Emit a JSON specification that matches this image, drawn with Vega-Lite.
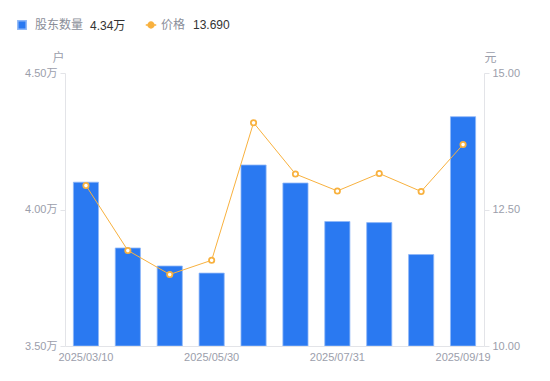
{
  "$schema": "https://vega.github.io/schema/vega-lite/v6.json",
  "width": 419,
  "height": 273,
  "autosize": {"type": "none"},
  "padding": {"left": 65, "top": 73, "right": 66, "bottom": 35},
  "config": {
    "view": {"stroke": null},
    "font": "Arial, 'Noto Sans CJK SC', sans-serif"
  },
  "data": {
    "values": [
      {"date": "2025/03/10", "holders": 41000, "price": 12.94},
      {"date": "2025/03/31", "holders": 38590, "price": 11.75},
      {"date": "2025/04/30", "holders": 37930, "price": 11.31},
      {"date": "2025/05/30", "holders": 37670, "price": 11.57},
      {"date": "2025/06/20", "holders": 41630, "price": 14.09},
      {"date": "2025/06/30", "holders": 40970, "price": 13.15},
      {"date": "2025/07/31", "holders": 39560, "price": 12.84},
      {"date": "2025/08/20", "holders": 39520, "price": 13.16},
      {"date": "2025/08/31", "holders": 38350, "price": 12.83},
      {"date": "2025/09/19", "holders": 43400, "price": 13.69}
    ]
  },
  "layer": [
    {
      "mark": {"type": "bar", "stroke": "#8fb8f7", "strokeWidth": 0.8, "clip": true},
      "encoding": {
        "x": {
          "field": "date", "type": "ordinal", "sort": null,
          "scale": {"paddingInner": 0.4, "paddingOuter": 0.2},
          "axis": {
            "title": null, "labelAngle": 0, "ticks": false,
            "values": ["2025/03/10", "2025/05/30", "2025/07/31", "2025/09/19"],
            "domainColor": "#e3e4e8", "labelColor": "#9b9eab", "labelFontSize": 11, "labelPadding": 5
          }
        },
        "y": {
          "field": "holders", "type": "quantitative",
          "scale": {"domain": [35000, 45000], "zero": false, "nice": false},
          "axis": {
            "title": "户", "titleAngle": 0, "titleX": -7, "titleY": -16,
            "titleAlign": "center", "titleBaseline": "middle",
            "titleColor": "#9b9eab", "titleFontWeight": "normal", "titleFontSize": 12,
            "values": [35000, 40000, 45000],
            "labelExpr": "format(datum.value / 10000, '.2f') + '万'",
            "grid": false, "tickSize": 5, "tickColor": "#e3e4e8", "domainColor": "#e3e4e8",
            "labelColor": "#9b9eab", "labelFontSize": 11, "labelPadding": 3
          }
        },
        "y2": {"datum": 35000},
        "color": {
          "datum": "股东数量",
          "scale": {"range": ["#2a79f1"]},
          "legend": {
            "orient": "none", "legendX": -49, "legendY": -54, "padding": 0,
            "symbolType": "square", "symbolSize": 70, "symbolOpacity": 1, "labelOffset": 7,
            "labelColor": "#8a8e99", "labelFontSize": 12,
            "title": "4.34万", "titleOrient": "right", "titleColor": "#333333",
            "titleFontSize": 12, "titleFontWeight": "normal", "titlePadding": 7
          }
        }
      }
    },
    {
      "mark": {
        "type": "line", "strokeWidth": 1,
        "point": {"filled": true, "fill": "white", "stroke": "#f8b13e", "strokeWidth": 1.8, "size": 28}
      },
      "encoding": {
        "x": {
          "field": "date", "type": "ordinal", "sort": null,
          "axis": {
            "title": null, "labelAngle": 0, "ticks": false,
            "values": ["2025/03/10", "2025/05/30", "2025/07/31", "2025/09/19"],
            "domainColor": "#e3e4e8", "labelColor": "#9b9eab", "labelFontSize": 11, "labelPadding": 5
          }
        },
        "y": {
          "field": "price", "type": "quantitative",
          "scale": {"domain": [10, 15], "zero": false, "nice": false},
          "axis": {
            "orient": "right",
            "title": "元", "titleAngle": 0, "titleX": 6, "titleY": -16,
            "titleAlign": "center", "titleBaseline": "middle",
            "titleColor": "#9b9eab", "titleFontWeight": "normal", "titleFontSize": 12,
            "values": [10, 12.5, 15], "format": ".2f",
            "grid": false, "tickSize": 5, "tickColor": "#e3e4e8", "domainColor": "#e3e4e8",
            "labelColor": "#9b9eab", "labelFontSize": 11, "labelPadding": 3
          }
        },
        "color": {
          "datum": "价格",
          "scale": {"range": ["#f8b13e"]},
          "legend": {
            "orient": "none", "legendX": 80, "legendY": -54, "padding": 0,
            "symbolType": "M-1,0H-0.55M0.55,0H1M-0.55,0A0.55,0.55,0,1,1,0.55,0A0.55,0.55,0,1,1,-0.55,0Z",
            "symbolSize": 110, "symbolStrokeColor": "#f8b13e", "symbolStrokeWidth": 1.5,
            "encode": {"symbols": {"update": {"fill": {"value": "#ffffff"}, "stroke": {"value": "#f8b13e"}, "strokeWidth": {"value": 1.5}}}},
            "labelColor": "#8a8e99", "labelFontSize": 12,
            "title": "13.690", "titleOrient": "right", "titleColor": "#333333",
            "titleFontSize": 12, "titleFontWeight": "normal", "titlePadding": 8
          }
        }
      }
    }
  ],
  "resolve": {"scale": {"y": "independent", "color": "independent"}}
}
